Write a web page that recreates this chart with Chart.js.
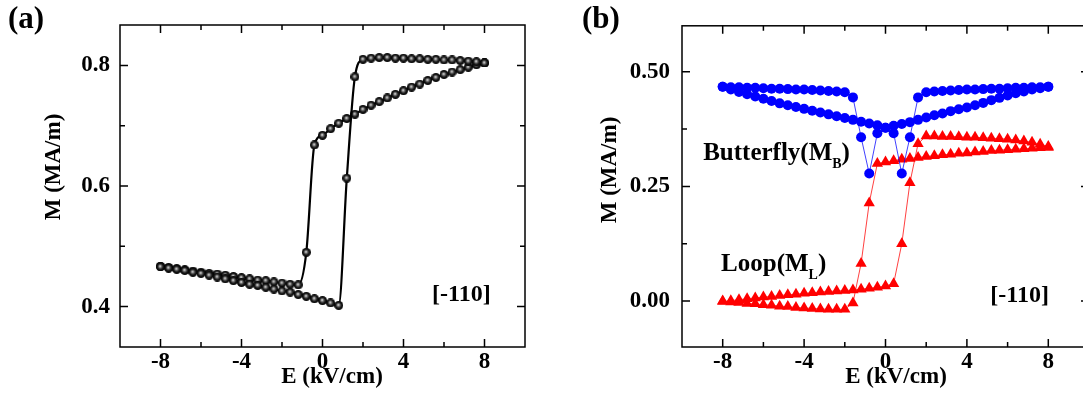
<!DOCTYPE html>
<html>
<head>
<meta charset="utf-8">
<script src="https://cdn.jsdelivr.net/npm/chart.js@4.4.1/dist/chart.umd.min.js"></script>
<style>
  html, body { margin: 0; padding: 0; background: #fff; overflow: hidden; }
  #wrap { position: relative; width: 1083px; height: 415px; overflow: hidden; }
  canvas { position: absolute; top: 0; }
  #chartA { left: 0; }
  #chartB { left: 560px; }
</style>
</head>
<body>
<div id="wrap">
  <canvas id="chartA" width="545" height="415"></canvas>
  <canvas id="chartB" width="545" height="415"></canvas>
</div>
<script>
// ================= DATA =================
// field sweep (kV/cm), same steps for every branch
const field = [-8, -7.6, -7.2, -6.8, -6.4, -6, -5.6, -5.2, -4.8, -4.4, -4, -3.6, -3.2, -2.8, -2.4, -2, -1.6, -1.2, -0.8, -0.4,
               0, 0.4, 0.8, 1.2, 1.6, 2, 2.4, 2.8, 3.2, 3.6, 4, 4.4, 4.8, 5.2, 5.6, 6, 6.4, 6.8, 7.2, 7.6, 8];

// (a) M (MA/m), branch measured while E goes up / while E comes down
const aUp   = [0.467, 0.465, 0.463, 0.461, 0.459, 0.457, 0.455, 0.454, 0.452, 0.450, 0.448, 0.446, 0.444, 0.443, 0.441, 0.439, 0.437, 0.436, 0.490, 0.668,
               0.684, 0.695, 0.704, 0.712, 0.719, 0.727, 0.734, 0.740, 0.746, 0.752, 0.758, 0.764, 0.769, 0.775, 0.780, 0.785, 0.789, 0.793, 0.797, 0.801, 0.804];
const aDown = [0.466, 0.464, 0.462, 0.460, 0.457, 0.455, 0.452, 0.449, 0.446, 0.443, 0.440, 0.437, 0.435, 0.432, 0.429, 0.426, 0.424, 0.420, 0.417, 0.413,
               0.410, 0.406, 0.402, 0.613, 0.781, 0.810, 0.812, 0.813, 0.813, 0.812, 0.812, 0.811, 0.811, 0.810, 0.810, 0.809, 0.809, 0.808, 0.807, 0.806, 0.804];

// (b) butterfly M_B
const bUp   = [0.467, 0.466, 0.466, 0.465, 0.465, 0.464, 0.463, 0.463, 0.462, 0.461, 0.461, 0.460, 0.459, 0.458, 0.457, 0.455, 0.444, 0.357, 0.278, 0.366,
               0.378, 0.382, 0.386, 0.390, 0.395, 0.400, 0.405, 0.409, 0.414, 0.418, 0.422, 0.427, 0.432, 0.438, 0.443, 0.448, 0.453, 0.457, 0.461, 0.464, 0.467];
const bDown = [0.467, 0.461, 0.456, 0.451, 0.446, 0.441, 0.436, 0.431, 0.427, 0.423, 0.419, 0.415, 0.411, 0.407, 0.403, 0.399, 0.395, 0.391, 0.387, 0.383,
               0.378, 0.366, 0.278, 0.357, 0.444, 0.455, 0.457, 0.458, 0.459, 0.460, 0.461, 0.461, 0.462, 0.463, 0.463, 0.464, 0.465, 0.465, 0.466, 0.466, 0.467];

// (b) loop M_L
const lUp   = [0.000, -0.002, -0.003, -0.005, -0.006, -0.008, -0.009, -0.011, -0.012, -0.014, -0.015, -0.016, -0.017, -0.018, -0.018, -0.018, -0.004, 0.082, 0.214, 0.300,
               0.303, 0.306, 0.309, 0.311, 0.313, 0.315, 0.317, 0.319, 0.320, 0.322, 0.323, 0.325, 0.326, 0.328, 0.329, 0.330, 0.331, 0.332, 0.333, 0.334, 0.335];
const lDown = [-0.001, 0.001, 0.003, 0.005, 0.007, 0.009, 0.010, 0.012, 0.014, 0.015, 0.017, 0.018, 0.020, 0.021, 0.022, 0.023, 0.024, 0.026, 0.028, 0.030,
               0.033, 0.038, 0.125, 0.258, 0.343, 0.360, 0.360, 0.359, 0.359, 0.358, 0.357, 0.357, 0.356, 0.355, 0.354, 0.353, 0.351, 0.349, 0.346, 0.342, 0.337];

// ticks
const xTicks      = [-8, -6, -4, -2, 0, 2, 4, 6, 8];
const xTickLabels = ['-8', '', '-4', '', '0', '', '4', '', '8'];
const aYTicks      = [0.4, 0.5, 0.6, 0.7, 0.8];
const aYTickLabels = ['0.4', '', '0.6', '', '0.8'];
const bYTicks      = [0, 0.125, 0.25, 0.375, 0.5];
const bYTickLabels = ['0.00', '', '0.25', '', '0.50'];


// ================= HELPERS =================
const SERIF = '"Liberation Serif", "Times New Roman", serif';

function pts(m) {
    return field.map((e, i) => ({ x: e, y: m[i] }));
}

// little shaded ball like the Origin marker
function sphere(d) {
    const c = document.createElement('canvas');
    c.width = d; c.height = d;
    const g = c.getContext('2d');
    const r = d / 2;
    const grd = g.createRadialGradient(r - 0.4, r - 0.6, 0.2, r, r, r);
    grd.addColorStop(0, '#e4e4e4');
    grd.addColorStop(0.25, '#7c7c7c');
    grd.addColorStop(0.6, '#1a1a1a');
    grd.addColorStop(1, '#000');
    g.fillStyle = grd;
    g.beginPath();
    g.arc(r, r, r, 0, Math.PI * 2);
    g.fill();
    return c;
}

// frame, inward ticks and all the text
const frame = {
    id: 'frame',
    afterDatasetsDraw(chart, args, o) {
        const { ctx, chartArea: a, scales: { x, y } } = chart;
        ctx.save();
        ctx.strokeStyle = '#000';
        ctx.lineWidth = 1.5;
        ctx.strokeRect(a.left, a.top, a.right - a.left, a.bottom - a.top);

        ctx.beginPath();
        x.ticks.forEach(t => {
            const p = x.getPixelForValue(t.value);
            const len = t.label ? 8 : 5;
            ctx.moveTo(p, a.bottom); ctx.lineTo(p, a.bottom - len);
            ctx.moveTo(p, a.top);    ctx.lineTo(p, a.top + len);
        });
        y.ticks.forEach(t => {
            const p = y.getPixelForValue(t.value);
            const len = t.label ? 8 : 5;
            ctx.moveTo(a.left, p);  ctx.lineTo(a.left + len, p);
            ctx.moveTo(a.right, p); ctx.lineTo(a.right - len, p);
        });
        ctx.stroke();

        ctx.fillStyle = '#000';
        ctx.textBaseline = 'alphabetic';
        ctx.textAlign = 'left';
        ctx.font = 'bold 31px ' + SERIF;
        ctx.fillText(o.panel, o.panelX, 28);

        ctx.font = 'bold 23px ' + SERIF;
        ctx.textAlign = 'center';
        ctx.textBaseline = 'middle';
        ctx.fillText('E (kV/cm)', o.xTitle[0], o.xTitle[1]);

        ctx.save();
        ctx.translate(o.yTitle[0], o.yTitle[1]);
        ctx.rotate(-Math.PI / 2);
        ctx.fillText('M (MA/m)', 0, 0);
        ctx.restore();

        ctx.textBaseline = 'alphabetic';
        o.notes.forEach(n => {
            const px = x.getPixelForValue(n.e);
            const py = y.getPixelForValue(n.m);
            ctx.font = 'bold ' + n.size + 'px ' + SERIF;
            if (!n.sub) {
                ctx.textAlign = 'center';
                ctx.fillText(n.text, px, py);
                return;
            }
            ctx.textAlign = 'left';
            ctx.fillText(n.text, px, py);
            let w = ctx.measureText(n.text).width;
            ctx.font = 'bold 14px ' + SERIF;
            ctx.fillText(n.sub, px + w, py + 8);
            w += ctx.measureText(n.sub).width;
            ctx.font = 'bold ' + n.size + 'px ' + SERIF;
            ctx.fillText(')', px + w, py);
        });
        ctx.restore();
    }
};

function makeChart(id, datasets, yMin, yMax, yTicks, yLabels, yWidth, yPad, rightPad, frameOpts) {
    const font = { family: SERIF, size: 23, weight: 'bold' };
    return new Chart(document.getElementById(id), {
        type: 'scatter',
        data: { datasets: datasets },
        options: {
            responsive: false,
            animation: false,
            events: [],
            layout: { padding: { left: 0, right: rightPad, top: 25, bottom: 0 } },
            plugins: { legend: { display: false }, tooltip: { enabled: false }, frame: frameOpts },
            scales: {
                x: {
                    type: 'linear', min: -10, max: 10,
                    grid: { display: false, drawTicks: false },
                    border: { display: false },
                    afterBuildTicks: s => { s.ticks = xTicks.map(v => ({ value: v })); },
                    afterFit: s => { s.height = 68; },
                    ticks: { autoSkip: false, maxRotation: 0, padding: 1, color: '#000', font: font,
                             callback: (v, i) => xTickLabels[i] }
                },
                y: {
                    type: 'linear', min: yMin, max: yMax,
                    grid: { display: false, drawTicks: false },
                    border: { display: false },
                    afterBuildTicks: s => { s.ticks = yTicks.map(v => ({ value: v })); },
                    afterFit: s => { s.width = yWidth; },
                    ticks: { autoSkip: false, padding: yPad, color: '#000', font: font,
                             callback: (v, i) => yLabels[i] }
                }
            }
        },
        plugins: [frame]
    });
}


// ================= PANEL (a) =================
const ball = sphere(9);
const blackLine = {
    showLine: true, borderColor: '#000', borderWidth: 2.2,
    cubicInterpolationMode: 'monotone',
    pointStyle: ball, pointRadius: 4.5
};

makeChart('chartA', [
    Object.assign({ data: pts(aDown) }, blackLine),
    Object.assign({ data: pts(aUp) }, blackLine)
], 0.333, 0.867, aYTicks, aYTickLabels, 120, 10, 20, {
    panel: '(a)', panelX: 8,
    xTitle: [332, 377], yTitle: [54, 167],
    notes: [{ e: 6.86, m: 0.410, text: '[-110]', size: 24 }]
});


// ================= PANEL (b) =================
function blue(m) {
    return { data: pts(m), showLine: true, borderColor: 'rgba(0,0,255,0.75)', borderWidth: 1,
             pointStyle: 'circle', pointRadius: 5, pointBorderWidth: 0, pointBackgroundColor: '#0000ff' };
}
function red(m) {
    return { data: pts(m), showLine: true, borderColor: 'rgba(255,0,0,0.75)', borderWidth: 1,
             pointStyle: 'triangle', pointRadius: 6.5, pointBorderWidth: 0, pointBackgroundColor: '#ff0000' };
}

makeChart('chartB', [blue(bDown), blue(bUp), red(lDown), red(lUp)],
    -0.1, 0.6, bYTicks, bYTickLabels, 122, 12, 16, {
    panel: '(b)', panelX: 22,
    xTitle: [336, 377], yTitle: [50, 170],
    notes: [
        { e: 6.59, m: -0.002, text: '[-110]', size: 24 },
        { e: -8.96, m: 0.3065, text: 'Butterfly(M', sub: 'B', size: 25 },
        { e: -8.08, m: 0.066, text: 'Loop(M', sub: 'L', size: 25 }
    ]
});
</script>
</body>
</html>
